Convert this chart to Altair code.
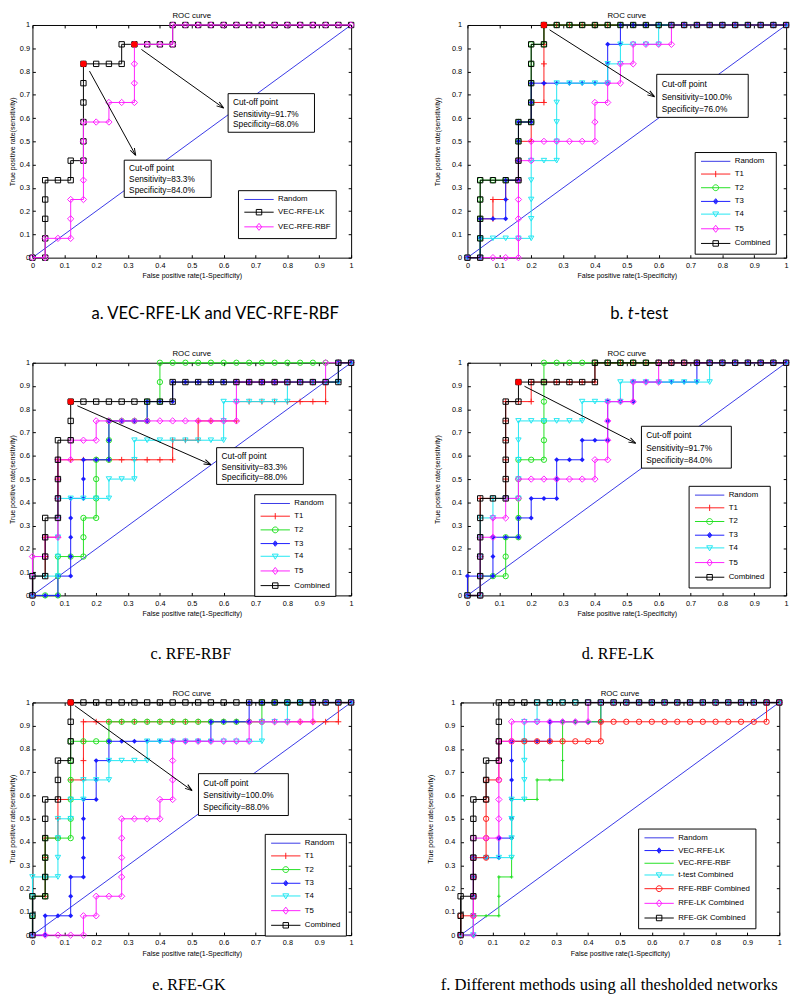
import math
import altair as alt
import pandas as pd

# ---------------- values ----------------
RANDOM = [(0, 0), (1, 1)]

# a. VEC-RFE-LK and VEC-RFE-RBF
A_VEC_LK = [(0, 0), (0.04, 0), (0.04, 0.083), (0.04, 0.167), (0.04, 0.25), (0.04, 0.333),
            (0.08, 0.333), (0.12, 0.333), (0.12, 0.417), (0.16, 0.417), (0.16, 0.5), (0.16, 0.583),
            (0.16, 0.667), (0.16, 0.75), (0.16, 0.833), (0.2, 0.833), (0.24, 0.833), (0.28, 0.833),
            (0.28, 0.917), (0.32, 0.917), (0.36, 0.917), (0.4, 0.917), (0.44, 0.917), (0.44, 1),
            (0.48, 1), (0.52, 1), (0.56, 1), (0.6, 1), (0.64, 1), (0.68, 1), (0.72, 1), (0.76, 1),
            (0.8, 1), (0.84, 1), (0.88, 1), (0.92, 1), (0.96, 1), (1, 1)]
A_VEC_RBF = [(0, 0), (0.04, 0), (0.04, 0.083), (0.08, 0.083), (0.12, 0.083), (0.12, 0.167),
             (0.12, 0.25), (0.16, 0.25), (0.16, 0.333), (0.16, 0.417), (0.16, 0.5), (0.16, 0.583),
             (0.2, 0.583), (0.24, 0.583), (0.24, 0.667), (0.28, 0.667), (0.32, 0.667), (0.32, 0.75),
             (0.32, 0.833), (0.32, 0.917), (0.36, 0.917), (0.4, 0.917), (0.44, 0.917), (0.44, 1),
             (0.48, 1), (0.52, 1), (0.56, 1), (0.6, 1), (0.64, 1), (0.68, 1), (0.72, 1), (0.76, 1),
             (0.8, 1), (0.84, 1), (0.88, 1), (0.92, 1), (0.96, 1), (1, 1)]

# b. t-test
B_T1 = [(0, 0), (0.04, 0), (0.04, 0.083), (0.04, 0.167), (0.08, 0.167), (0.08, 0.25), (0.12, 0.25),
        (0.12, 0.333), (0.16, 0.333), (0.16, 0.417), (0.16, 0.5), (0.2, 0.5), (0.2, 0.583),
        (0.2, 0.667), (0.24, 0.667), (0.24, 0.75), (0.24, 0.833), (0.24, 0.917), (0.24, 1),
        (0.28, 1), (0.32, 1), (0.36, 1), (0.4, 1), (0.44, 1), (0.48, 1), (0.52, 1), (0.56, 1),
        (0.6, 1), (0.64, 1), (0.68, 1), (0.72, 1), (0.76, 1), (0.8, 1), (0.84, 1), (0.88, 1),
        (0.92, 1), (0.96, 1), (1, 1)]
B_T2 = [(0, 0), (0.04, 0), (0.04, 0.083), (0.04, 0.167), (0.04, 0.25), (0.04, 0.333), (0.08, 0.333),
        (0.12, 0.333), (0.16, 0.333), (0.16, 0.417), (0.16, 0.5), (0.16, 0.583), (0.2, 0.583),
        (0.2, 0.667), (0.2, 0.75), (0.2, 0.833), (0.2, 0.917), (0.24, 0.917), (0.24, 1),
        (0.28, 1), (0.32, 1), (0.36, 1), (0.4, 1), (0.44, 1), (0.48, 1), (0.52, 1), (0.56, 1),
        (0.6, 1), (0.64, 1), (0.68, 1), (0.72, 1), (0.76, 1), (0.8, 1), (0.84, 1), (0.88, 1),
        (0.92, 1), (0.96, 1), (1, 1)]
B_T3 = [(0, 0), (0.04, 0), (0.04, 0.083), (0.04, 0.167), (0.08, 0.167), (0.12, 0.167), (0.12, 0.25),
        (0.12, 0.333), (0.16, 0.333), (0.16, 0.417), (0.16, 0.5), (0.16, 0.583), (0.2, 0.583),
        (0.2, 0.667), (0.2, 0.75), (0.24, 0.75), (0.28, 0.75), (0.32, 0.75), (0.36, 0.75),
        (0.4, 0.75), (0.44, 0.75), (0.44, 0.833), (0.44, 0.917), (0.48, 0.917), (0.48, 1),
        (0.52, 1), (0.56, 1), (0.6, 1), (0.64, 1), (0.68, 1), (0.72, 1), (0.76, 1), (0.8, 1),
        (0.84, 1), (0.88, 1), (0.92, 1), (0.96, 1), (1, 1)]
B_T4 = [(0, 0), (0.04, 0), (0.04, 0.083), (0.08, 0.083), (0.12, 0.083), (0.16, 0.083), (0.2, 0.083),
        (0.2, 0.167), (0.2, 0.25), (0.2, 0.333), (0.2, 0.417), (0.24, 0.417), (0.28, 0.417),
        (0.28, 0.5), (0.28, 0.583), (0.28, 0.667), (0.28, 0.75), (0.32, 0.75), (0.36, 0.75),
        (0.4, 0.75), (0.44, 0.75), (0.44, 0.833), (0.48, 0.833), (0.48, 0.917), (0.52, 0.917),
        (0.56, 0.917), (0.6, 0.917), (0.6, 1), (0.64, 1), (0.68, 1), (0.72, 1), (0.76, 1),
        (0.8, 1), (0.84, 1), (0.88, 1), (0.92, 1), (0.96, 1), (1, 1)]
B_T5 = [(0, 0), (0.04, 0), (0.08, 0), (0.12, 0), (0.16, 0), (0.16, 0.083), (0.16, 0.167),
        (0.16, 0.25), (0.16, 0.333), (0.16, 0.417), (0.2, 0.417), (0.2, 0.5), (0.24, 0.5),
        (0.28, 0.5), (0.32, 0.5), (0.36, 0.5), (0.4, 0.5), (0.4, 0.583), (0.4, 0.667), (0.44, 0.667),
        (0.44, 0.75), (0.48, 0.75), (0.48, 0.833), (0.52, 0.833), (0.52, 0.917), (0.56, 0.917),
        (0.6, 0.917), (0.64, 0.917), (0.64, 1), (0.68, 1), (0.72, 1), (0.76, 1), (0.8, 1),
        (0.84, 1), (0.88, 1), (0.92, 1), (0.96, 1), (1, 1)]
B_COMB = [(0, 0), (0.04, 0), (0.04, 0.083), (0.04, 0.167), (0.04, 0.25), (0.04, 0.333), (0.08, 0.333),
          (0.12, 0.333), (0.16, 0.333), (0.16, 0.417), (0.16, 0.5), (0.16, 0.583), (0.2, 0.583),
          (0.2, 0.667), (0.2, 0.75), (0.2, 0.833), (0.2, 0.917), (0.24, 0.917), (0.24, 1),
          (0.28, 1), (0.32, 1), (0.36, 1), (0.4, 1), (0.44, 1), (0.48, 1), (0.52, 1), (0.56, 1),
          (0.6, 1), (0.64, 1), (0.68, 1), (0.72, 1), (0.76, 1), (0.8, 1), (0.84, 1), (0.88, 1),
          (0.92, 1), (0.96, 1), (1, 1)]

# c. RFE-RBF
C_T1 = [(0, 0), (0, 0.083), (0.04, 0.083), (0.04, 0.167), (0.04, 0.25), (0.08, 0.25), (0.08, 0.333),
        (0.08, 0.417), (0.08, 0.5), (0.08, 0.583), (0.12, 0.583), (0.16, 0.583), (0.2, 0.583),
        (0.24, 0.583), (0.28, 0.583), (0.32, 0.583), (0.36, 0.583), (0.4, 0.583), (0.44, 0.583),
        (0.44, 0.667), (0.48, 0.667), (0.52, 0.667), (0.52, 0.75), (0.56, 0.75), (0.6, 0.75),
        (0.64, 0.75), (0.64, 0.833), (0.68, 0.833), (0.72, 0.833), (0.76, 0.833), (0.8, 0.833),
        (0.84, 0.833), (0.88, 0.833), (0.92, 0.833), (0.92, 0.917), (0.96, 0.917), (0.96, 1), (1, 1)]
C_T2 = [(0, 0), (0.04, 0), (0.08, 0), (0.08, 0.083), (0.08, 0.167), (0.12, 0.167), (0.16, 0.167),
        (0.16, 0.25), (0.16, 0.333), (0.2, 0.333), (0.2, 0.417), (0.2, 0.5), (0.2, 0.583),
        (0.24, 0.583), (0.24, 0.667), (0.24, 0.75), (0.28, 0.75), (0.32, 0.75), (0.36, 0.75),
        (0.36, 0.833), (0.4, 0.833), (0.4, 0.917), (0.4, 1), (0.44, 1), (0.48, 1), (0.52, 1),
        (0.56, 1), (0.6, 1), (0.64, 1), (0.68, 1), (0.72, 1), (0.76, 1), (0.8, 1), (0.84, 1),
        (0.88, 1), (0.92, 1), (0.96, 1), (1, 1)]
C_T3 = [(0, 0), (0.04, 0), (0.08, 0), (0.08, 0.083), (0.12, 0.083), (0.12, 0.167), (0.12, 0.25),
        (0.12, 0.333), (0.12, 0.417), (0.16, 0.417), (0.16, 0.5), (0.16, 0.583), (0.2, 0.583),
        (0.24, 0.583), (0.24, 0.667), (0.24, 0.75), (0.28, 0.75), (0.32, 0.75), (0.36, 0.75),
        (0.36, 0.833), (0.4, 0.833), (0.44, 0.833), (0.44, 0.917), (0.48, 0.917), (0.52, 0.917),
        (0.56, 0.917), (0.6, 0.917), (0.64, 0.917), (0.68, 0.917), (0.72, 0.917), (0.76, 0.917),
        (0.8, 0.917), (0.84, 0.917), (0.88, 0.917), (0.92, 0.917), (0.96, 0.917), (0.96, 1), (1, 1)]
C_T4 = [(0, 0), (0, 0.083), (0.04, 0.083), (0.08, 0.083), (0.08, 0.167), (0.08, 0.25), (0.08, 0.333),
        (0.08, 0.417), (0.12, 0.417), (0.16, 0.417), (0.2, 0.417), (0.24, 0.417), (0.24, 0.5),
        (0.28, 0.5), (0.32, 0.5), (0.32, 0.583), (0.32, 0.667), (0.36, 0.667), (0.4, 0.667),
        (0.44, 0.667), (0.48, 0.667), (0.52, 0.667), (0.56, 0.667), (0.6, 0.667), (0.6, 0.75),
        (0.6, 0.833), (0.64, 0.833), (0.68, 0.833), (0.72, 0.833), (0.76, 0.833), (0.8, 0.833),
        (0.8, 0.917), (0.84, 0.917), (0.88, 0.917), (0.92, 0.917), (0.96, 0.917), (0.96, 1), (1, 1)]
C_T5 = [(0, 0), (0, 0.083), (0, 0.167), (0.04, 0.167), (0.04, 0.25), (0.08, 0.25), (0.08, 0.333),
        (0.08, 0.417), (0.08, 0.5), (0.08, 0.583), (0.12, 0.583), (0.12, 0.667), (0.16, 0.667),
        (0.2, 0.667), (0.2, 0.75), (0.24, 0.75), (0.28, 0.75), (0.32, 0.75), (0.36, 0.75),
        (0.4, 0.75), (0.44, 0.75), (0.48, 0.75), (0.52, 0.75), (0.56, 0.75), (0.6, 0.75),
        (0.64, 0.75), (0.64, 0.833), (0.64, 0.917), (0.68, 0.917), (0.72, 0.917), (0.76, 0.917),
        (0.8, 0.917), (0.84, 0.917), (0.88, 0.917), (0.92, 0.917), (0.92, 1), (0.96, 1), (1, 1)]
C_COMB = [(0, 0), (0, 0.083), (0.04, 0.083), (0.04, 0.167), (0.04, 0.25), (0.04, 0.333), (0.08, 0.333),
          (0.08, 0.417), (0.08, 0.5), (0.08, 0.583), (0.08, 0.667), (0.12, 0.667), (0.12, 0.75),
          (0.12, 0.833), (0.16, 0.833), (0.2, 0.833), (0.24, 0.833), (0.28, 0.833), (0.32, 0.833),
          (0.36, 0.833), (0.4, 0.833), (0.44, 0.833), (0.44, 0.917), (0.48, 0.917), (0.52, 0.917),
          (0.56, 0.917), (0.6, 0.917), (0.64, 0.917), (0.68, 0.917), (0.72, 0.917), (0.76, 0.917),
          (0.8, 0.917), (0.84, 0.917), (0.88, 0.917), (0.92, 0.917), (0.96, 0.917), (0.96, 1), (1, 1)]

# d. RFE-LK
D_T1 = [(0, 0), (0.04, 0), (0.04, 0.083), (0.04, 0.167), (0.04, 0.25), (0.04, 0.333), (0.04, 0.417),
        (0.08, 0.417), (0.12, 0.417), (0.12, 0.5), (0.12, 0.583), (0.12, 0.667), (0.12, 0.75),
        (0.12, 0.833), (0.16, 0.833), (0.2, 0.833), (0.2, 0.917), (0.24, 0.917), (0.28, 0.917),
        (0.32, 0.917), (0.36, 0.917), (0.4, 0.917), (0.4, 1), (0.44, 1), (0.48, 1), (0.52, 1),
        (0.56, 1), (0.6, 1), (0.64, 1), (0.68, 1), (0.72, 1), (0.76, 1), (0.8, 1), (0.84, 1),
        (0.88, 1), (0.92, 1), (0.96, 1), (1, 1)]
D_T2 = [(0, 0), (0.04, 0), (0.04, 0.083), (0.08, 0.083), (0.12, 0.083), (0.12, 0.167), (0.12, 0.25),
        (0.16, 0.25), (0.16, 0.333), (0.16, 0.417), (0.16, 0.5), (0.16, 0.583), (0.2, 0.583),
        (0.24, 0.583), (0.24, 0.667), (0.24, 0.75), (0.24, 0.833), (0.24, 0.917), (0.24, 1),
        (0.28, 1), (0.32, 1), (0.36, 1), (0.4, 1), (0.44, 1), (0.48, 1), (0.52, 1), (0.56, 1),
        (0.6, 1), (0.64, 1), (0.68, 1), (0.72, 1), (0.76, 1), (0.8, 1), (0.84, 1), (0.88, 1),
        (0.92, 1), (0.96, 1), (1, 1)]
D_T3 = [(0, 0), (0, 0.083), (0.04, 0.083), (0.08, 0.083), (0.08, 0.167), (0.08, 0.25), (0.12, 0.25),
        (0.16, 0.25), (0.16, 0.333), (0.2, 0.333), (0.2, 0.417), (0.24, 0.417), (0.28, 0.417),
        (0.28, 0.5), (0.28, 0.583), (0.32, 0.583), (0.36, 0.583), (0.36, 0.667), (0.4, 0.667),
        (0.44, 0.667), (0.44, 0.75), (0.44, 0.833), (0.48, 0.833), (0.52, 0.833), (0.52, 0.917),
        (0.56, 0.917), (0.6, 0.917), (0.64, 0.917), (0.68, 0.917), (0.72, 0.917), (0.72, 1),
        (0.76, 1), (0.8, 1), (0.84, 1), (0.88, 1), (0.92, 1), (0.96, 1), (1, 1)]
D_T4 = [(0, 0), (0.04, 0), (0.04, 0.083), (0.04, 0.167), (0.04, 0.25), (0.04, 0.333), (0.08, 0.333),
        (0.08, 0.417), (0.12, 0.417), (0.16, 0.417), (0.16, 0.5), (0.16, 0.583), (0.16, 0.667),
        (0.16, 0.75), (0.2, 0.75), (0.24, 0.75), (0.28, 0.75), (0.32, 0.75), (0.36, 0.75),
        (0.36, 0.833), (0.4, 0.833), (0.44, 0.833), (0.48, 0.833), (0.48, 0.917), (0.52, 0.917),
        (0.56, 0.917), (0.6, 0.917), (0.64, 0.917), (0.68, 0.917), (0.72, 0.917), (0.76, 0.917),
        (0.76, 1), (0.8, 1), (0.84, 1), (0.88, 1), (0.92, 1), (0.96, 1), (1, 1)]
D_T5 = [(0, 0), (0.04, 0), (0.04, 0.083), (0.04, 0.167), (0.04, 0.25), (0.08, 0.25), (0.08, 0.333),
        (0.12, 0.333), (0.12, 0.417), (0.16, 0.417), (0.16, 0.5), (0.2, 0.5), (0.24, 0.5),
        (0.28, 0.5), (0.32, 0.5), (0.36, 0.5), (0.4, 0.5), (0.4, 0.583), (0.44, 0.583),
        (0.44, 0.667), (0.44, 0.75), (0.44, 0.833), (0.48, 0.833), (0.52, 0.833), (0.52, 0.917),
        (0.56, 0.917), (0.6, 0.917), (0.6, 1), (0.64, 1), (0.68, 1), (0.72, 1), (0.76, 1),
        (0.8, 1), (0.84, 1), (0.88, 1), (0.92, 1), (0.96, 1), (1, 1)]
D_COMB = [(0, 0), (0.04, 0), (0.04, 0.083), (0.04, 0.167), (0.04, 0.25), (0.04, 0.333), (0.04, 0.417),
          (0.08, 0.417), (0.12, 0.417), (0.12, 0.5), (0.12, 0.583), (0.12, 0.667), (0.12, 0.75),
          (0.12, 0.833), (0.16, 0.833), (0.16, 0.917), (0.2, 0.917), (0.24, 0.917), (0.28, 0.917),
          (0.32, 0.917), (0.36, 0.917), (0.4, 0.917), (0.4, 1), (0.44, 1), (0.48, 1), (0.52, 1),
          (0.56, 1), (0.6, 1), (0.64, 1), (0.68, 1), (0.72, 1), (0.76, 1), (0.8, 1), (0.84, 1),
          (0.88, 1), (0.92, 1), (0.96, 1), (1, 1)]

# e. RFE-GK
E_T1 = [(0, 0), (0, 0.083), (0, 0.167), (0.04, 0.167), (0.04, 0.25), (0.04, 0.333), (0.04, 0.417),
        (0.08, 0.417), (0.08, 0.5), (0.08, 0.583), (0.12, 0.583), (0.12, 0.667), (0.16, 0.667),
        (0.16, 0.75), (0.16, 0.833), (0.16, 0.917), (0.2, 0.917), (0.24, 0.917), (0.28, 0.917),
        (0.32, 0.917), (0.36, 0.917), (0.4, 0.917), (0.44, 0.917), (0.48, 0.917), (0.52, 0.917),
        (0.56, 0.917), (0.6, 0.917), (0.64, 0.917), (0.68, 0.917), (0.72, 0.917), (0.76, 0.917),
        (0.8, 0.917), (0.84, 0.917), (0.88, 0.917), (0.92, 0.917), (0.96, 0.917), (0.96, 1), (1, 1)]
E_T2 = [(0, 0), (0, 0.083), (0, 0.167), (0.04, 0.167), (0.04, 0.25), (0.04, 0.333), (0.04, 0.417),
        (0.08, 0.417), (0.12, 0.417), (0.12, 0.5), (0.12, 0.583), (0.12, 0.667), (0.12, 0.75),
        (0.12, 0.833), (0.16, 0.833), (0.2, 0.833), (0.24, 0.833), (0.24, 0.917), (0.28, 0.917),
        (0.32, 0.917), (0.36, 0.917), (0.4, 0.917), (0.44, 0.917), (0.48, 0.917), (0.52, 0.917),
        (0.56, 0.917), (0.6, 0.917), (0.64, 0.917), (0.68, 0.917), (0.72, 0.917), (0.72, 1),
        (0.76, 1), (0.8, 1), (0.84, 1), (0.88, 1), (0.92, 1), (0.96, 1), (1, 1)]
E_T3 = [(0, 0), (0.04, 0), (0.04, 0.083), (0.08, 0.083), (0.12, 0.083), (0.12, 0.167), (0.12, 0.25),
        (0.16, 0.25), (0.16, 0.333), (0.16, 0.417), (0.16, 0.5), (0.16, 0.583), (0.2, 0.583),
        (0.2, 0.667), (0.2, 0.75), (0.24, 0.75), (0.24, 0.833), (0.28, 0.833), (0.32, 0.833),
        (0.36, 0.833), (0.4, 0.833), (0.44, 0.833), (0.48, 0.833), (0.52, 0.833), (0.56, 0.833),
        (0.56, 0.917), (0.6, 0.917), (0.64, 0.917), (0.68, 0.917), (0.68, 1), (0.72, 1), (0.76, 1),
        (0.8, 1), (0.84, 1), (0.88, 1), (0.92, 1), (0.96, 1), (1, 1)]
E_T4 = [(0, 0), (0, 0.083), (0, 0.167), (0, 0.25), (0.04, 0.25), (0.08, 0.25), (0.08, 0.333),
        (0.08, 0.417), (0.08, 0.5), (0.12, 0.5), (0.12, 0.583), (0.16, 0.583), (0.16, 0.667),
        (0.2, 0.667), (0.24, 0.667), (0.24, 0.75), (0.28, 0.75), (0.32, 0.75), (0.36, 0.75),
        (0.36, 0.833), (0.4, 0.833), (0.44, 0.833), (0.48, 0.833), (0.52, 0.833), (0.56, 0.833),
        (0.6, 0.833), (0.64, 0.833), (0.68, 0.833), (0.72, 0.833), (0.72, 0.917), (0.76, 0.917),
        (0.8, 0.917), (0.8, 1), (0.84, 1), (0.88, 1), (0.92, 1), (0.96, 1), (1, 1)]
E_T5 = [(0, 0), (0.04, 0), (0.08, 0), (0.12, 0), (0.16, 0), (0.16, 0.083), (0.2, 0.083),
        (0.2, 0.167), (0.24, 0.167), (0.28, 0.167), (0.28, 0.25), (0.28, 0.333), (0.28, 0.417),
        (0.28, 0.5), (0.32, 0.5), (0.36, 0.5), (0.4, 0.5), (0.4, 0.583), (0.44, 0.583),
        (0.44, 0.667), (0.44, 0.75), (0.44, 0.833), (0.48, 0.833), (0.52, 0.833), (0.56, 0.833),
        (0.6, 0.833), (0.64, 0.833), (0.68, 0.833), (0.68, 0.917), (0.72, 0.917), (0.76, 0.917),
        (0.8, 0.917), (0.84, 0.917), (0.88, 0.917), (0.88, 1), (0.92, 1), (0.96, 1), (1, 1)]
E_COMB = [(0, 0), (0, 0.083), (0, 0.167), (0.04, 0.167), (0.04, 0.25), (0.04, 0.333), (0.04, 0.417),
          (0.04, 0.5), (0.04, 0.583), (0.08, 0.583), (0.08, 0.667), (0.08, 0.75), (0.12, 0.75),
          (0.12, 0.833), (0.12, 0.917), (0.12, 1), (0.16, 1), (0.2, 1), (0.24, 1), (0.28, 1),
          (0.32, 1), (0.36, 1), (0.4, 1), (0.44, 1), (0.48, 1), (0.52, 1), (0.56, 1), (0.6, 1),
          (0.64, 1), (0.68, 1), (0.72, 1), (0.76, 1), (0.8, 1), (0.84, 1), (0.88, 1), (0.92, 1),
          (0.96, 1), (1, 1)]

# cut-off points
CUT_A = [(0.16, 0.833), (0.32, 0.917)]
CUT_B = [(0.24, 1)]
CUT_C = [(0.12, 0.833)]
CUT_D = [(0.16, 0.917)]
CUT_E = [(0.12, 1)]

# annotation boxes (x_left, x_right, y_top, y_bottom) in data units, their texts, arrows (start, end)
BOX_A = [(0.614, 0.885, 0.705, 0.539), (0.288, 0.561, 0.419, 0.259)]
TXT_A = [["Cut-off point", "Sensitivity=91.7%", "Specificity=68.0%"],
         ["Cut-off point", "Sensitivity=83.3%", "Specificity=84.0%"]]
ARR_A = [((0.342, 0.895), (0.600, 0.643)), ((0.179, 0.802), (0.324, 0.44))]
BOX_B = [(0.594, 0.881, 0.788, 0.603)]
TXT_B = [["Cut-off point", "Sensitivity=100.0%", "Specificity=76.0%"]]
ARR_B = [((0.258, 0.979), (0.587, 0.692))]
BOX_C = [(0.578, 0.85, 0.635, 0.477)]
TXT_C = [["Cut-off point", "Sensitivity=83.3%", "Specificity=88.0%"]]
ARR_C = [((0.141, 0.815), (0.560, 0.562))]
BOX_D = [(0.546, 0.828, 0.727, 0.547)]
TXT_D = [["Cut-off point", "Sensitivity=91.7%", "Specificity=84.0%"]]
ARR_D = [((0.179, 0.899), (0.528, 0.654))]
BOX_E = [(0.521, 0.803, 0.694, 0.514)]
TXT_E = [["Cut-off point", "Sensitivity=100.0%", "Specificity=88.0%"]]
ARR_E = [((0.133, 0.986), (0.501, 0.621))]

# legend top-left corner in data units
LEG_A = (0.645, 0.29)
LEG_B = (0.713, 0.454)
LEG_C = (0.696, 0.435)
LEG_D = (0.694, 0.471)
LEG_E = (0.729, 0.435)
LEG_F = (0.557, 0.458)

CAPTIONS = ["a. VEC-RFE-LK and VEC-RFE-RBF", "c. RFE-RBF", "d. RFE-LK",
            "e. RFE-GK", "f. Different methods using all thesholded networks"]
CAPTION_B = ["b.", "t", "-test"]
TICKS = [0, 0.1, 0.2, 0.3, 0.4, 0.5, 0.6, 0.7, 0.8, 0.9, 1]

# ---------------- styles ----------------
W, H = 326, 238
FONT = "Liberation Sans"
RANDOM_C = "#3636e6"
RED, GREEN, BLUE, CYAN, MAGENTA, BLACK = "#ff1c1c", "#22e022", "#1c1cff", "#20e6f2", "#ff20ff", "#000000"
CUT_COLOR = "#ff0000"
PLUS = "M-1,0H1M0,-1V1"
ARROWHEAD = "M0,0L-0.4,1.2M0,0L0.4,1.2"

LL = "M-3.75,0H3.75"
LP_NONE = LL
LP_SQUARE = LL + "M-0.7,-0.7H0.7V0.7H-0.7Z"
LP_CIRCLE = LL + "M-0.75,0A0.75,0.75,0,1,0,0.75,0A0.75,0.75,0,1,0,-0.75,0Z"
LP_PLUS = LL + "M0,-0.8V0.8"
LP_DIAM = LL + "M0,-0.9L0.7,0L0,0.9L-0.7,0Z"
LP_DIAMF = LL + "M0,-0.7L0.55,0L0,0.7L-0.55,0ZM0,-0.45L0.35,0L0,0.45L-0.35,0ZM0,-0.2L0.15,0L0,0.2L-0.15,0Z"
LP_TRI = LL + "M-0.75,-0.55H0.75L0,0.75Z"

# (color, point shape, filled, size, legend path)
S_T1 = (RED, PLUS, False, 36, LP_PLUS)
S_T2 = (GREEN, "circle", False, 30, LP_CIRCLE)
S_T3 = (BLUE, "diamond", True, 26, LP_DIAMF)
S_T4 = (CYAN, "triangle-down", False, 30, LP_TRI)
S_T5 = (MAGENTA, "diamond", False, 42, LP_DIAM)
S_COMB = (BLACK, "square", False, 30, LP_SQUARE)

SC = alt.Scale(domain=[0, 1], nice=False, zero=False)


def mkdf(pts):
    return pd.DataFrame({"x": [p[0] for p in pts], "y": [p[1] for p in pts],
                         "i": list(range(len(pts)))})


def common_axis(**kw):
    d = dict(values=TICKS, format="~g", grid=False, domain=False, ticks=True, tickSize=3,
             offset=-3, tickColor="black", labelColor="black", titleColor="black",
             labelFont=FONT, titleFont=FONT, labelFontSize=7.5, titleFontSize=7.2,
             titleFontWeight="normal", labelFlush=False, labelOverlap=False)
    d.update(kw)
    return alt.Axis(**d)


def caption_layers(caption, cap_font, cap_size, cap_dx, cap_dy):
    if isinstance(caption, list):
        # "b. t-test" with an italic t
        x0 = W / 2 + cap_dx - 29
        pieces = [(caption[0], 0, "normal"), (caption[1], 18, "italic"), (caption[2], 24.5, "normal")]
        return [alt.Chart(pd.DataFrame({"t": [txt]}))
                .mark_text(font=cap_font, fontSize=cap_size, align="left", baseline="middle",
                           fontStyle=style, color="black")
                .encode(text="t:N", x=alt.value(x0 + off), y=alt.value(H + cap_dy))
                for txt, off, style in pieces]
    return [alt.Chart(pd.DataFrame({"t": [caption]}))
            .mark_text(font=cap_font, fontSize=cap_size, align="center", baseline="middle",
                       color="black")
            .encode(text="t:N", x=alt.value(W / 2 + cap_dx), y=alt.value(H + cap_dy))]


def panel(series, cuts, boxes, texts, arrows, leg, caption, cap_font, cap_size, cap_dx, cap_dy, left):
    xa = common_axis(title="False positive rate(1-Specificity)", labelPadding=4, titlePadding=3)
    ya = common_axis(title="True positive rate(sensitivity)", labelPadding=3 if left else 6,
                     titlePadding=3 if left else 10)
    xt = common_axis(orient="top", labels=False, title=None)
    yr = common_axis(orient="right", labels=False, title=None)
    x = alt.X("x:Q", scale=SC, axis=None)
    y = alt.Y("y:Q", scale=SC, axis=None)
    layers = [alt.Chart(mkdf(RANDOM)).mark_line(color=RANDOM_C, strokeWidth=1)
              .encode(x=alt.X("x:Q", scale=SC, axis=xa), y=alt.Y("y:Q", scale=SC, axis=ya),
                      order="i:Q"),
              alt.Chart(mkdf(RANDOM)).mark_line(strokeWidth=0, opacity=0)
              .encode(x=alt.X("x:Q", scale=SC, axis=xt), y=alt.Y("y:Q", scale=SC, axis=yr),
                      order="i:Q")]
    for name, pts, st in series:
        col, shp, filled, size, _ = st
        d = mkdf(pts)
        layers.append(alt.Chart(d).mark_line(color=col, strokeWidth=1).encode(x=x, y=y, order="i:Q"))
        layers.append(alt.Chart(d).mark_point(shape=shp, color=col, filled=filled, size=size,
                                              opacity=1, strokeWidth=1).encode(x=x, y=y))
    if cuts:
        layers.append(alt.Chart(mkdf(cuts)).mark_point(shape="circle", color=CUT_COLOR, filled=True,
                                                       size=42, opacity=1).encode(x=x, y=y))
    for b, t, a in zip(boxes, texts, arrows):
        (sx, sy), (ex, ey) = a
        ad = pd.DataFrame({"x": [sx], "y": [sy], "x2": [ex], "y2": [ey]})
        layers.append(alt.Chart(ad).mark_rule(color="black", strokeWidth=1)
                      .encode(x=x, y=y, x2="x2:Q", y2="y2:Q"))
        ang = math.degrees(math.atan2((ex - sx) * W, (ey - sy) * H)) % 360
        layers.append(alt.Chart(pd.DataFrame({"x": [ex], "y": [ey]}))
                      .mark_point(shape=ARROWHEAD, angle=ang, size=144, filled=False, color="black",
                                  strokeWidth=1, opacity=1).encode(x=x, y=y))
        bd = pd.DataFrame({"x": [b[0]], "x2": [b[1]], "y": [b[2]], "y2": [b[3]]})
        layers.append(alt.Chart(bd).mark_rect(fill="white", stroke="black", strokeWidth=1)
                      .encode(x=x, x2="x2:Q", y=y, y2="y2:Q"))
        td = pd.DataFrame({"x": [b[0]] * 3,
                           "y": [b[2] - f * (b[2] - b[3]) for f in (0.22, 0.52, 0.8)],
                           "t": t})
        layers.append(alt.Chart(td).mark_text(align="left", baseline="middle", dx=5, font=FONT,
                                              fontSize=8.5, color="black")
                      .encode(x=x, y=y, text="t:N"))
    names = ["Random"] + [s[0] for s in series]
    colors = [RANDOM_C] + [s[2][0] for s in series]
    paths = [LP_NONE] + [s[2][4] for s in series]
    lg = alt.Legend(title=None, orient="none", legendX=leg[0] * W, legendY=(1 - leg[1]) * H,
                    fillColor="white", strokeColor="black", padding=5, symbolSize=64,
                    symbolStrokeWidth=1, symbolOffset=12, labelOffset=15, rowPadding=3,
                    labelFont=FONT, labelFontSize=8, labelColor="black", labelLimit=300)
    layers.append(alt.Chart(pd.DataFrame({"series": names})).mark_point(filled=False, opacity=1,
                                                                       strokeWidth=1)
                  .encode(color=alt.Color("series:N", scale=alt.Scale(domain=names, range=colors),
                                          legend=lg),
                          shape=alt.Shape("series:N", scale=alt.Scale(domain=names, range=paths),
                                          legend=lg))
                  .transform_filter("false"))
    layers.append(alt.Chart(pd.DataFrame({"t": ["ROC curve"]}))
                  .mark_text(font=FONT, fontSize=8, align="center", baseline="bottom", color="black")
                  .encode(text="t:N", x=alt.value(W / 2), y=alt.value(-5)))
    layers += caption_layers(caption, cap_font, cap_size, cap_dx, cap_dy)
    return alt.layer(*layers).resolve_axis(x="independent", y="independent").properties(
        width=W, height=H)


pa = panel([("VEC-RFE-LK", A_VEC_LK, S_COMB), ("VEC-RFE-RBF", A_VEC_RBF, S_T5)],
           CUT_A, BOX_A, TXT_A, ARR_A, LEG_A, CAPTIONS[0], "Lato", 17, 24, 58, True)
pb = panel([("T1", B_T1, S_T1), ("T2", B_T2, S_T2), ("T3", B_T3, S_T3), ("T4", B_T4, S_T4),
            ("T5", B_T5, S_T5), ("Combined", B_COMB, S_COMB)],
           CUT_B, BOX_B, TXT_B, ARR_B, LEG_B, CAPTION_B, "Lato", 17, 12, 58, False)
pc = panel([("T1", C_T1, S_T1), ("T2", C_T2, S_T2), ("T3", C_T3, S_T3), ("T4", C_T4, S_T4),
            ("T5", C_T5, S_T5), ("Combined", C_COMB, S_COMB)],
           CUT_C, BOX_C, TXT_C, ARR_C, LEG_C, CAPTIONS[1], "Liberation Serif", 16.5, -1, 60, True)
pd_ = panel([("T1", D_T1, S_T1), ("T2", D_T2, S_T2), ("T3", D_T3, S_T3), ("T4", D_T4, S_T4),
             ("T5", D_T5, S_T5), ("Combined", D_COMB, S_COMB)],
            CUT_D, BOX_D, TXT_D, ARR_D, LEG_D, CAPTIONS[2], "Liberation Serif", 16.5, -9, 60, False)
pe = panel([("T1", E_T1, S_T1), ("T2", E_T2, S_T2), ("T3", E_T3, S_T3), ("T4", E_T4, S_T4),
            ("T5", E_T5, S_T5), ("Combined", E_COMB, S_COMB)],
           CUT_E, BOX_E, TXT_E, ARR_E, LEG_E, CAPTIONS[3], "Liberation Serif", 16.5, -3, 51, True)
pf = panel([("VEC-RFE-LK", A_VEC_LK, S_T3),
            ("VEC-RFE-RBF", A_VEC_RBF, (GREEN, PLUS, False, 12, LP_NONE)),
            ("t-test Combined", B_COMB, S_T4),
            ("RFE-RBF Combined", C_COMB, (RED, "circle", False, 30, LP_CIRCLE)),
            ("RFE-LK Combined", D_COMB, S_T5),
            ("RFE-GK Combined", E_COMB, S_COMB)],
           [], [], [], [], LEG_F, CAPTIONS[4], "Liberation Serif", 17, -11, 51, False)

RES = dict(color="independent", shape="independent")
row1 = alt.hconcat(pa, pb, spacing=78).resolve_scale(**RES)
row2 = alt.hconcat(pc, pd_, spacing=78).resolve_scale(**RES)
row3 = alt.hconcat(pe, pf, spacing=71).resolve_scale(**RES)
chart = (alt.vconcat(row1, row2, row3, spacing=26.5).resolve_scale(**RES)
         .properties(padding={"top": -8, "left": 0, "right": 0, "bottom": -4}, background="white")
         .configure_view(stroke="black", strokeWidth=1))

chart.save("out.html", embed_options={"renderer": "svg", "actions": False})
